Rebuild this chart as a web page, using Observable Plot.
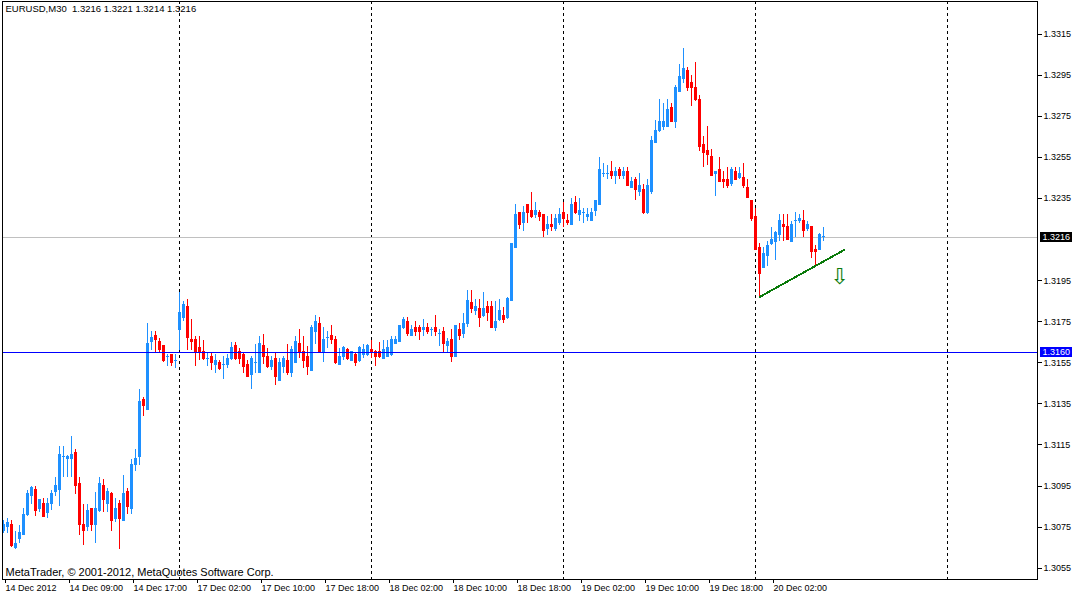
<!DOCTYPE html>
<html><head><meta charset="utf-8">
<script src="https://cdn.jsdelivr.net/npm/d3@7"></script>
<script src="https://cdn.jsdelivr.net/npm/@observablehq/plot@0.6"></script>
<style>
html,body{margin:0;padding:0;background:#fff;}
#chart svg{display:block;}
#chart svg rect, #chart svg line, #chart svg path{shape-rendering:crispEdges;}
</style></head><body><div id="chart"></div>
<script>
const header = "EURUSD,M30  1.3216 1.3221 1.3214 1.3216";
const copyright = "MetaTrader, \u00A9 2001-2012, MetaQuotes Software Corp.";

const open = [
1.3073,1.3075,1.3076,1.3065,1.3069,1.3071,1.3081,1.3090,1.3093,1.3084,
1.3086,1.3082,1.3086,1.3092,1.3093,1.3109,1.3108,1.3108,1.3111,1.3096,
1.3076,1.3075,1.3084,1.3076,1.3083,1.3095,1.3086,1.3091,1.3079,1.3086,
1.3078,1.3092,1.3084,1.3105,1.3109,1.3137,1.3132,1.3165,1.3168,1.3165,
1.3163,1.3158,1.3159,1.3156,1.3171,1.3177,1.3182,1.3166,1.3166,1.3162,
1.3160,1.3157,1.3158,1.3154,1.3155,1.3154,1.3154,1.3157,1.3163,1.3160,
1.3159,1.3154,1.3149,1.3155,1.3150,1.3163,1.3158,1.3153,1.3157,1.3146,
1.3153,1.3156,1.3150,1.3155,1.3164,1.3160,1.3158,1.3151,1.3170,1.3174,
1.3160,1.3167,1.3168,1.3166,1.3154,1.3158,1.3161,1.3156,1.3159,1.3156,
1.3159,1.3159,1.3161,1.3160,1.3160,1.3157,1.3158,1.3159,1.3164,1.3165,
1.3172,1.3175,1.3168,1.3172,1.3172,1.3171,1.3172,1.3171,1.3172,1.3169,
1.3170,1.3163,1.3166,1.3158,1.3171,1.3169,1.3174,1.3184,1.3180,1.3181,
1.3178,1.3182,1.3182,1.3172,1.3176,1.3178,1.3177,1.3185,1.3211,1.3228,
1.3223,1.3232,1.3229,1.3227,1.3228,1.3227,1.3220,1.3222,1.3220,1.3223,
1.3228,1.3224,1.3222,1.3233,1.3227,1.3228,1.3226,1.3224,1.3229,1.3232,
1.3247,1.3247,1.3248,1.3246,1.3249,1.3246,1.3248,1.3240,1.3244,1.3238,
1.3239,1.3228,1.3238,1.3262,1.3268,1.3270,1.3270,1.3279,1.3272,1.3287,
1.3293,1.3297,1.3291,1.3289,1.3283,1.3261,1.3258,1.3255,1.3247,1.3249,
1.3244,1.3244,1.3242,1.3248,1.3245,1.3245,1.3240,1.3234,1.3226,1.3211,
1.3201,1.3207,1.3213,1.3214,1.3217,1.3222,1.3221,1.3214,1.3224,1.3224,
1.3224,1.3220,1.3221,1.3210,1.3210,1.3216];
const high = [
1.3078,1.3079,1.3078,1.3073,1.3076,1.3084,1.3093,1.3095,1.3095,1.3088,
1.3089,1.3089,1.3093,1.3099,1.3114,1.3114,1.3110,1.3119,1.3113,1.3099,
1.3086,1.3086,1.3084,1.3092,1.3099,1.3098,1.3094,1.3092,1.3089,1.3088,
1.3100,1.3094,1.3108,1.3113,1.3142,1.3138,1.3174,1.3170,1.3170,1.3167,
1.3163,1.3159,1.3159,1.3159,1.3189,1.3185,1.3186,1.3176,1.3168,1.3168,
1.3166,1.3160,1.3160,1.3159,1.3156,1.3158,1.3159,1.3165,1.3165,1.3162,
1.3160,1.3156,1.3158,1.3164,1.3168,1.3169,1.3162,1.3158,1.3160,1.3157,
1.3158,1.3164,1.3163,1.3168,1.3171,1.3168,1.3163,1.3173,1.3178,1.3177,
1.3172,1.3170,1.3173,1.3168,1.3162,1.3163,1.3162,1.3160,1.3160,1.3163,
1.3164,1.3164,1.3166,1.3161,1.3165,1.3166,1.3166,1.3168,1.3168,1.3173,
1.3177,1.3177,1.3173,1.3175,1.3173,1.3176,1.3174,1.3172,1.3178,1.3171,
1.3172,1.3167,1.3171,1.3173,1.3174,1.3179,1.3190,1.3190,1.3186,1.3186,
1.3189,1.3185,1.3185,1.3185,1.3186,1.3182,1.3187,1.3213,1.3232,1.3228,
1.3231,1.3232,1.3238,1.3233,1.3229,1.3227,1.3226,1.3227,1.3227,1.3230,
1.3233,1.3227,1.3235,1.3236,1.3235,1.3230,1.3230,1.3230,1.3234,1.3255,
1.3252,1.3251,1.3253,1.3250,1.3250,1.3250,1.3250,1.3245,1.3245,1.3247,
1.3242,1.3244,1.3265,1.3273,1.3283,1.3281,1.3283,1.3281,1.3290,1.3300,
1.3308,1.3299,1.3295,1.3301,1.3285,1.3265,1.3270,1.3259,1.3248,1.3255,
1.3248,1.3250,1.3250,1.3250,1.3250,1.3252,1.3244,1.3234,1.3230,1.3213,
1.3211,1.3214,1.3221,1.3219,1.3227,1.3227,1.3227,1.3224,1.3228,1.3227,
1.3229,1.3224,1.3221,1.3212,1.3218,1.3221];
const low = [
1.3072,1.3072,1.3065,1.3064,1.3067,1.3071,1.3080,1.3086,1.3080,1.3082,
1.3080,1.3079,1.3083,1.3090,1.3085,1.3099,1.3099,1.3099,1.3091,1.3071,
1.3066,1.3073,1.3073,1.3067,1.3082,1.3082,1.3082,1.3073,1.3077,1.3064,
1.3078,1.3081,1.3081,1.3102,1.3105,1.3129,1.3132,1.3161,1.3160,1.3160,
1.3155,1.3153,1.3153,1.3152,1.3161,1.3175,1.3161,1.3161,1.3153,1.3156,
1.3156,1.3153,1.3151,1.3150,1.3151,1.3147,1.3152,1.3156,1.3156,1.3154,
1.3150,1.3148,1.3142,1.3150,1.3150,1.3154,1.3152,1.3151,1.3144,1.3146,
1.3150,1.3149,1.3148,1.3155,1.3157,1.3152,1.3149,1.3151,1.3164,1.3160,
1.3155,1.3162,1.3164,1.3154,1.3154,1.3156,1.3156,1.3156,1.3153,1.3155,
1.3157,1.3158,1.3157,1.3153,1.3157,1.3157,1.3158,1.3158,1.3164,1.3165,
1.3171,1.3168,1.3168,1.3168,1.3166,1.3168,1.3169,1.3168,1.3168,1.3163,
1.3160,1.3160,1.3155,1.3158,1.3166,1.3167,1.3172,1.3179,1.3178,1.3172,
1.3177,1.3175,1.3172,1.3170,1.3175,1.3174,1.3176,1.3185,1.3211,1.3220,
1.3219,1.3223,1.3225,1.3225,1.3224,1.3216,1.3217,1.3219,1.3219,1.3222,
1.3221,1.3222,1.3222,1.3227,1.3224,1.3223,1.3224,1.3224,1.3226,1.3232,
1.3245,1.3244,1.3244,1.3242,1.3244,1.3244,1.3241,1.3240,1.3234,1.3236,
1.3227,1.3227,1.3237,1.3262,1.3267,1.3268,1.3270,1.3272,1.3269,1.3287,
1.3291,1.3287,1.3280,1.3282,1.3258,1.3250,1.3251,1.3246,1.3236,1.3243,
1.3240,1.3240,1.3241,1.3244,1.3244,1.3240,1.3235,1.3224,1.3210,1.3187,
1.3201,1.3202,1.3212,1.3205,1.3214,1.3214,1.3215,1.3214,1.3216,1.3223,
1.3216,1.3219,1.3206,1.3202,1.3210,1.3214];
const close = [
1.3076,1.3077,1.3066,1.3067,1.3072,1.3081,1.3091,1.3094,1.3083,1.3088,
1.3080,1.3086,1.3091,1.3095,1.3110,1.3109,1.3109,1.3110,1.3095,1.3076,
1.3073,1.3083,1.3076,1.3084,1.3096,1.3088,1.3092,1.3078,1.3084,1.3079,
1.3091,1.3085,1.3105,1.3108,1.3136,1.3134,1.3164,1.3167,1.3166,1.3161,
1.3156,1.3158,1.3155,1.3156,1.3179,1.3183,1.3167,1.3165,1.3160,1.3160,
1.3157,1.3157,1.3155,1.3156,1.3152,1.3154,1.3157,1.3162,1.3157,1.3157,
1.3153,1.3148,1.3157,1.3155,1.3164,1.3158,1.3153,1.3156,1.3148,1.3155,
1.3157,1.3150,1.3161,1.3165,1.3160,1.3156,1.3153,1.3172,1.3175,1.3160,
1.3166,1.3167,1.3166,1.3155,1.3158,1.3162,1.3157,1.3160,1.3155,1.3162,
1.3161,1.3163,1.3160,1.3158,1.3158,1.3161,1.3162,1.3166,1.3166,1.3173,
1.3176,1.3169,1.3171,1.3170,1.3170,1.3172,1.3170,1.3171,1.3170,1.3169,
1.3164,1.3165,1.3158,1.3173,1.3168,1.3174,1.3185,1.3181,1.3182,1.3177,
1.3181,1.3179,1.3172,1.3175,1.3180,1.3176,1.3186,1.3213,1.3227,1.3222,
1.3228,1.3228,1.3226,1.3229,1.3226,1.3219,1.3222,1.3221,1.3225,1.3227,
1.3225,1.3223,1.3232,1.3228,1.3229,1.3228,1.3227,1.3228,1.3234,1.3249,
1.3247,1.3247,1.3246,1.3248,1.3246,1.3248,1.3241,1.3243,1.3239,1.3241,
1.3228,1.3241,1.3263,1.3268,1.3272,1.3272,1.3278,1.3272,1.3289,1.3294,
1.3298,1.3289,1.3289,1.3283,1.3260,1.3257,1.3256,1.3246,1.3248,1.3243,
1.3243,1.3241,1.3249,1.3244,1.3247,1.3241,1.3235,1.3225,1.3210,1.3198,
1.3208,1.3212,1.3215,1.3218,1.3224,1.3221,1.3215,1.3222,1.3224,1.3225,
1.3219,1.3222,1.3209,1.3209,1.3217,1.3216];

// time axis (bar index of each labelled bar)
const tickBars = [0,16,32,48,64,80,96,112,128,144,160,176,192];
const tickLabels = ["14 Dec 2012","14 Dec 09:00","14 Dec 17:00","17 Dec 02:00","17 Dec 10:00",
  "17 Dec 18:00","18 Dec 02:00","18 Dec 10:00","18 Dec 18:00","19 Dec 02:00","19 Dec 10:00",
  "19 Dec 18:00","20 Dec 02:00"];
const separatorBars = [44,92,140,188,236];
const priceTicks = [1.3315,1.3295,1.3275,1.3255,1.3235,1.3195,1.3175,1.3155,1.3135,1.3115,1.3095,1.3075,1.3055];
const bidPrice = 1.3216;
const levelPrice = 1.3160;
const trendline = [{i:189, p:1.3187},{i:210.25, p:1.3210}];
const arrow = [{i:209, p:1.3197}];
const priceBoxes = [{p:bidPrice, t:"1.3216", bg:"black"},{p:levelPrice, t:"1.3160", bg:"blue"}];

const bull = "#1E90FF", bear = "#FF0000";
const rows = open.map((o,i) => ({i, o, h: high[i], l: low[i], c: close[i]}));
const labelOf = new Map(tickBars.map((b,k) => [b, tickLabels[k]]));
const col = d => d.c >= d.o ? bull : bear;

const plot = Plot.plot({
  width: 1075, height: 596,
  marginLeft: 2, marginRight: 38, marginTop: 1, marginBottom: 17,
  style: {fontFamily: "'Liberation Sans', Arial, sans-serif", fontSize: "9px", background: "white", color: "black", overflow: "visible"},
  x: {domain: [-0.25, 258.5], axis: null},
  y: {domain: [1.304948, 1.333089], axis: null},
  color: {type: "identity"},
  marks: [
    Plot.ruleX(separatorBars, {x: d => d, stroke: "black", strokeDasharray: "3,3"}),
    Plot.ruleY([bidPrice], {y: d => d, stroke: "#c0c0c0"}),
    Plot.ruleX(rows, {x: "i", y1: "l", y2: "h", stroke: col}),
    Plot.rect(rows, {x1: d => d.i - 0.375, x2: d => d.i + 0.375, y1: "o", y2: "c", fill: col, insetTop: -0.5, insetBottom: -0.5}),
    Plot.ruleY([levelPrice], {y: d => d, stroke: "blue"}),
    Plot.line(trendline, {x: "i", y: "p", stroke: "#0a7a0a", strokeWidth: 2}),
    Plot.text(arrow, {x: "i", y: "p", text: () => "\u21E9", fill: "#0a7a0a", fontSize: 22, fontFamily: "DejaVu Sans"}),
    Plot.axisX(tickBars, {anchor: "bottom", tickSize: 4, tickPadding: 1, textAnchor: "start", dx: 2, tickFormat: d => labelOf.get(d), label: null}),
    Plot.axisY(priceTicks, {anchor: "right", tickSize: 4, tickPadding: 2, tickFormat: d => d.toFixed(4), label: null}),
    Plot.frame({stroke: "black"}),
    Plot.rect(priceBoxes, {y1: "p", y2: "p", fill: "bg", insetLeft: 1038, insetRight: -35, insetTop: -5, insetBottom: -5}),
    Plot.text(priceBoxes, {y: "p", text: "t", frameAnchor: "right", dx: 5, textAnchor: "start", fill: "white"}),
    Plot.text([header], {text: d => d, frameAnchor: "top-left", dx: 3, dy: 4, textAnchor: "start", lineAnchor: "top", fontSize: 9.5}),
    Plot.text([copyright], {text: d => d, frameAnchor: "bottom-left", dx: 3, dy: -4, textAnchor: "start", lineAnchor: "bottom", fontSize: 11})
  ]
});
document.getElementById("chart").appendChild(plot);
</script></body></html>
